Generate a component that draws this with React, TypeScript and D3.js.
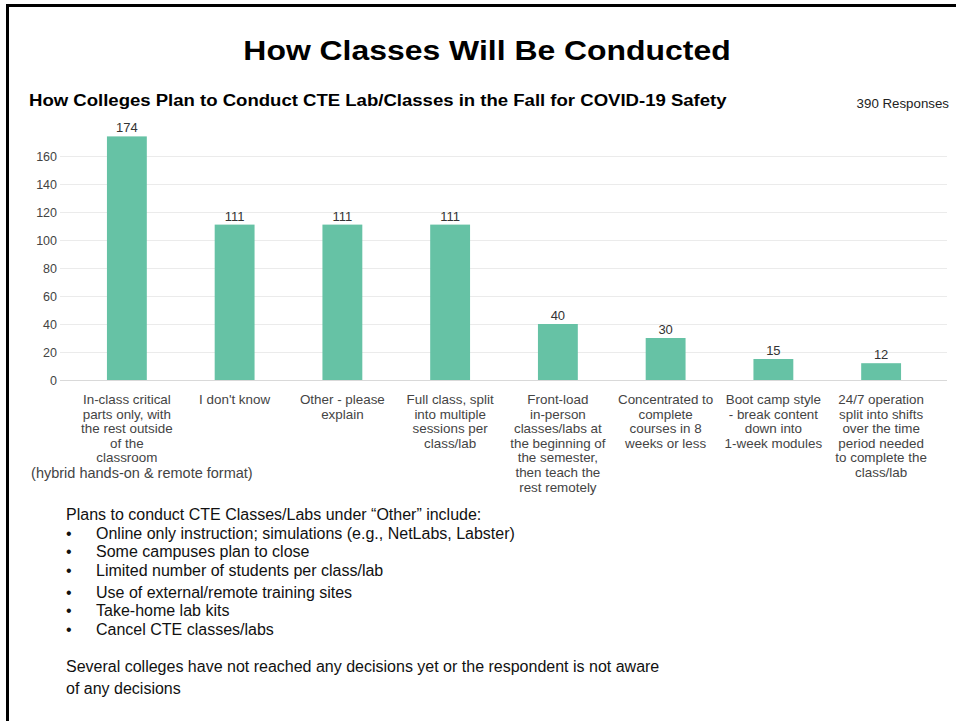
import React, { useEffect, useRef } from 'react';
import * as d3 from 'd3';

const categories = [
  ['In-class critical', 'parts only, with', 'the rest outside', 'of the', 'classroom'],
  ["I don't know"],
  ['Other - please', 'explain'],
  ['Full class, split', 'into multiple', 'sessions per', 'class/lab'],
  ['Front-load', 'in-person', 'classes/labs at', 'the beginning of', 'the semester,', 'then teach the', 'rest remotely'],
  ['Concentrated to', 'complete', 'courses in 8', 'weeks or less'],
  ['Boot camp style', '- break content', 'down into', '1-week modules'],
  ['24/7 operation', 'split into shifts', 'over the time', 'period needed', 'to complete the', 'class/lab'],
];
const values = [174, 111, 111, 111, 40, 30, 15, 12];
const yTicks = [0, 20, 40, 60, 80, 100, 120, 140, 160];

const title = 'How Classes Will Be Conducted';
const subtitle = 'How Colleges Plan to Conduct CTE Lab/Classes in the Fall for COVID-19 Safety';
const responses = '390 Responses';
const firstNote = '(hybrid hands-on & remote format)';
const notesIntro = 'Plans to conduct CTE Classes/Labs under \u201cOther\u201d include:';
const notesBullets = [
  'Online only instruction; simulations (e.g., NetLabs, Labster)',
  'Some campuses plan to close',
  'Limited number of students per class/lab',
  'Use of external/remote training sites',
  'Take-home lab kits',
  'Cancel CTE classes/labs',
];
const notesFooter = [
  'Several colleges have not reached any decisions yet or the respondent is not aware',
  'of any decisions',
];

const App = () => {
  const svgRef = useRef(null);

  useEffect(() => {
    const svg = d3.select(svgRef.current);
    svg.selectAll('*').remove();
    const font = "'Liberation Sans', Arial, Helvetica, sans-serif";

    // text that is a bit wider than the font gives (slide was stretched)
    const wideText = (parent, x, y, sx, str, anchor = 'start') =>
      parent.append('g').attr('transform', `translate(${x},${y}) scale(${sx},1)`)
        .append('text').attr('text-anchor', anchor).style('font-family', font).text(str);

    // frame (top + left border)
    svg.append('line').attr('x1', 6).attr('x2', 956).attr('y1', 5.5).attr('y2', 5.5)
      .attr('stroke', '#000').attr('stroke-width', 3);
    svg.append('line').attr('x1', 7.5).attr('x2', 7.5).attr('y1', 4).attr('y2', 721)
      .attr('stroke', '#000').attr('stroke-width', 3);

    wideText(svg, 487, 60, 1.14, title, 'middle')
      .attr('font-weight', 'bold').attr('font-size', 28);
    wideText(svg, 29, 106, 1.16, subtitle)
      .attr('font-weight', 'bold').attr('font-size', 16);
    svg.append('text').attr('x', 949).attr('y', 108).attr('text-anchor', 'end')
      .style('font-family', font).attr('font-size', 13.3).attr('fill', '#222')
      .text(responses);

    const x = d3.scaleBand().domain(values.map((_, i) => String(i)))
      .range([73, 935]).paddingInner(0.63).paddingOuter(0.315);
    const y = d3.scaleLinear().domain([0, 160]).range([380, 156]);

    // gridlines
    svg.append('g').selectAll('line').data(yTicks).enter().append('line')
      .attr('x1', 60).attr('x2', 947)
      .attr('y1', (d) => y(d) + 0.5).attr('y2', (d) => y(d) + 0.5)
      .attr('stroke', (d) => (d === 0 ? '#d9d9d9' : '#ebebeb'));

    svg.append('g').selectAll('text').data(yTicks).enter().append('text')
      .attr('x', 57).attr('y', (d) => y(d) + 4.5).attr('text-anchor', 'end')
      .style('font-family', font).attr('font-size', 12.5).attr('fill', '#444')
      .text((d) => d);

    // bars
    svg.append('g').selectAll('rect').data(values).enter().append('rect')
      .attr('x', (_, i) => x(String(i)))
      .attr('y', (d) => y(d))
      .attr('width', x.bandwidth())
      .attr('height', (d) => y(0) - y(d))
      .attr('fill', '#66c2a5');

    svg.append('g').selectAll('text').data(values).enter().append('text')
      .attr('x', (_, i) => x(String(i)) + x.bandwidth() / 2)
      .attr('y', (d) => y(d) - 4).attr('text-anchor', 'middle')
      .style('font-family', font).attr('font-size', 13).attr('fill', '#333')
      .text((d) => d);

    // category labels
    const cat = svg.append('g');
    categories.forEach((lines, i) => {
      const t = cat.append('text')
        .attr('text-anchor', 'middle')
        .style('font-family', font).attr('font-size', 13.4).attr('fill', '#444');
      lines.forEach((ln, j) => {
        t.append('tspan').attr('x', x(String(i)) + x.bandwidth() / 2)
          .attr('y', 404 + j * 14.6).text(ln);
      });
    });
    svg.append('text').attr('x', x('0') + x.bandwidth() / 2 + 15).attr('y', 478)
      .attr('text-anchor', 'middle').style('font-family', font).attr('font-size', 14.5)
      .attr('fill', '#444').text(firstNote);

    // notes
    const notes = svg.append('g').style('font-family', font).attr('font-size', 16).attr('fill', '#111');
    notes.append('text').attr('x', 66).attr('y', 520).text(notesIntro);
    const bulletY = [539, 557, 576, 598, 616, 635];
    notesBullets.forEach((b, i) => {
      notes.append('text').attr('x', 66).attr('y', bulletY[i]).text('\u2022');
      notes.append('text').attr('x', 96).attr('y', bulletY[i]).text(b);
    });
    notesFooter.forEach((f, i) => {
      notes.append('text').attr('x', 66).attr('y', 672 + i * 22).text(f);
    });
  }, []);

  return (
    <svg
      ref={svgRef}
      width={956}
      height={721}
      style={{ position: 'absolute', left: 0, top: 0, background: '#fff' }}
    ></svg>
  );
};

export default App;
